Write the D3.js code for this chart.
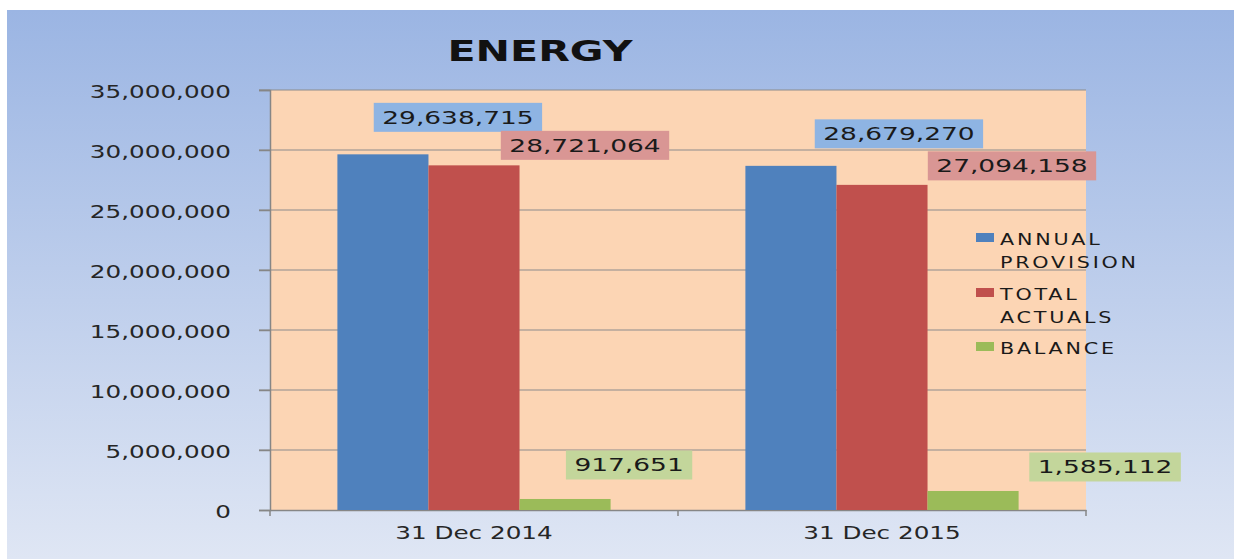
<!DOCTYPE html>
<html lang="en">
<head>
    <meta charset="UTF-8" />
    <title>Energy</title>
    <script src="https://d3js.org/d3.v7.min.js"></script>
    <style>
        body { margin: 0; background: #ffffff; font-family: "DejaVu Sans", sans-serif; }
        svg { display: block; }
    </style>
</head>
<body>
<div id="chart"></div>
<script>
    // chart data
    var categories = ["31 Dec 2014", "31 Dec 2015"];
    var seriesNames = ["ANNUAL PROVISION", "TOTAL ACTUALS", "BALANCE"];
    var annualProvision = [29638715, 28679270];
    var totalActuals = [28721064, 27094158];
    var balance = [917651, 1585112];
    var yTicks = [0, 5000000, 10000000, 15000000, 20000000, 25000000, 30000000, 35000000];
    var legendLines = [["ANNUAL", "PROVISION"], ["TOTAL", "ACTUALS"], ["BALANCE"]];

    // label box offsets from the top centre of each bar (they were dragged by hand)
    var labelOffsets = [
        [[75, -37], [108, -32]],
        [[111, -20], [130, -19]],
        [[64, -34], [132, -24]]
    ];

    var w = 1234, h = 559;
    var plot = { left: 270, right: 1086, top: 90, bottom: 510 };
    var colors = ["#4f81bd", "#c0504d", "#9bbb59"];
    var labelFill = ["#8eb4e3", "#d99694", "#c3d69b"];
    var seriesValues = [annualProvision, totalActuals, balance];

    var svg = d3.select("#chart").append("svg")
        .attr("width", w)
        .attr("height", h);

    // background gradient
    var grad = svg.append("defs").append("linearGradient")
        .attr("id", "bg").attr("x1", 0).attr("y1", 0).attr("x2", 0).attr("y2", 1);
    grad.append("stop").attr("offset", "0%").attr("stop-color", "#9bb5e3");
    grad.append("stop").attr("offset", "100%").attr("stop-color", "#dfe6f4");

    svg.append("rect")
        .attr("x", 7).attr("y", 10)
        .attr("width", w - 7).attr("height", h - 10)
        .attr("fill", "url(#bg)");

    var y = d3.scaleLinear().domain([0, 35000000]).range([plot.bottom, plot.top]);
    var x0 = d3.scaleBand().domain(categories).range([plot.left, plot.right]);
    var x1 = d3.scaleBand().domain(d3.range(3)).range([0, x0.bandwidth()])
        .paddingInner(0).paddingOuter(0.74);

    // plot area
    svg.append("rect")
        .attr("x", plot.left).attr("y", plot.top)
        .attr("width", plot.right - plot.left).attr("height", plot.bottom - plot.top)
        .attr("fill", "#fcd5b4");

    // gridlines
    svg.selectAll("line.grid")
        .data(yTicks.filter(function(d) { return d > 0; }))
        .enter().append("line")
        .attr("class", "grid")
        .attr("x1", plot.left - 11).attr("x2", plot.right)
        .attr("y1", function(d) { return y(d); })
        .attr("y2", function(d) { return y(d); })
        .attr("stroke", "#8c8c8c").attr("stroke-width", 1.2);

    // y axis
    var yAxis = d3.axisLeft(y).tickValues(yTicks).tickSize(11).tickPadding(28)
        .tickFormat(d3.format(","));
    var yg = svg.append("g").attr("transform", "translate(" + plot.left + ",0)").call(yAxis);
    yg.select(".domain").attr("stroke", "#868686").attr("stroke-width", 1.5);
    yg.selectAll(".tick line").attr("stroke", "#868686").attr("stroke-width", 1.5);
    yg.selectAll(".tick text")
        .attr("x", null).attr("dy", null)
        .attr("transform", "translate(-39,7) scale(1.37,1)")
        .attr("font-family", "DejaVu Sans").attr("font-size", 18)
        .attr("fill", "#262626");

    // x axis
    var xAxis = d3.axisBottom(x0).tickSize(0).tickPadding(0);
    var xg = svg.append("g").attr("transform", "translate(0," + plot.bottom + ")").call(xAxis);
    xg.select(".domain").attr("stroke", "#868686").attr("stroke-width", 1.5);
    xg.selectAll(".tick text")
        .attr("y", null).attr("dy", null)
        .attr("transform", "translate(0,29) scale(1.37,1)")
        .attr("font-family", "DejaVu Sans").attr("font-size", 18)
        .attr("fill", "#262626");
    // category separator ticks
    var sepTicks = [plot.left, x0(categories[1]), plot.right];
    svg.selectAll("line.sep").data(sepTicks).enter().append("line")
        .attr("x1", function(d) { return d; }).attr("x2", function(d) { return d; })
        .attr("y1", plot.bottom).attr("y2", plot.bottom + 6)
        .attr("stroke", "#868686").attr("stroke-width", 1.5);

    // bars
    var groups = svg.selectAll("g.series")
        .data(seriesValues)
        .enter().append("g")
        .attr("class", "series")
        .attr("fill", function(d, i) { return colors[i]; });

    groups.each(function(vals, si) {
        d3.select(this).selectAll("rect")
            .data(vals)
            .enter().append("rect")
            .attr("x", function(d, ci) { return x0(categories[ci]) + x1(si); })
            .attr("y", function(d) { return y(d); })
            .attr("width", x1.bandwidth())
            .attr("height", function(d) { return plot.bottom - y(d); });
    });

    // data labels
    var fmt = d3.format(",");
    seriesValues.forEach(function(vals, si) {
        vals.forEach(function(v, ci) {
            var cx = x0(categories[ci]) + x1(si) + x1.bandwidth() / 2 + labelOffsets[si][ci][0];
            var cy = y(v) + labelOffsets[si][ci][1];
            var g = svg.append("g");
            var box = g.append("rect").attr("fill", labelFill[si]);
            var t = g.append("text")
                .attr("text-anchor", "middle")
                .attr("transform", "translate(" + cx + "," + (cy + 6.5) + ") scale(1.47,1)")
                .attr("font-family", "DejaVu Sans").attr("font-size", 18)
                .attr("fill", "#1a1a1a")
                .text(fmt(v));
            var tw = t.node().getComputedTextLength() * 1.47 + 17;
            box.attr("x", cx - tw / 2).attr("y", cy - 14.5)
                .attr("width", tw).attr("height", 29);
        });
    });

    // title
    svg.append("text")
        .attr("text-anchor", "middle")
        .attr("transform", "translate(540,61) scale(1.47,1)")
        .attr("font-family", "DejaVu Sans").attr("font-weight", "bold")
        .attr("font-size", 28).attr("fill", "#111")
        .text("ENERGY");

    // legend
    var legendY = [233, 288, 342];
    var legend = svg.selectAll("g.legend")
        .data(seriesNames)
        .enter().append("g")
        .attr("class", "legend")
        .attr("transform", function(d, i) { return "translate(976," + legendY[i] + ")"; });
    legend.append("rect")
        .attr("width", 18).attr("height", 9)
        .attr("fill", function(d, i) { return colors[i]; });
    legend.each(function(d, i) {
        var g = d3.select(this);
        legendLines[i].forEach(function(line, li) {
            g.append("text")
                .attr("transform", "translate(24," + (12 + li * 23) + ") scale(1.38,1)")
                .attr("font-family", "DejaVu Sans").attr("font-size", 15)
                .attr("letter-spacing", 2)
                .attr("fill", "#1a1a1a")
                .text(line);
        });
    });
</script>
</body>
</html>
